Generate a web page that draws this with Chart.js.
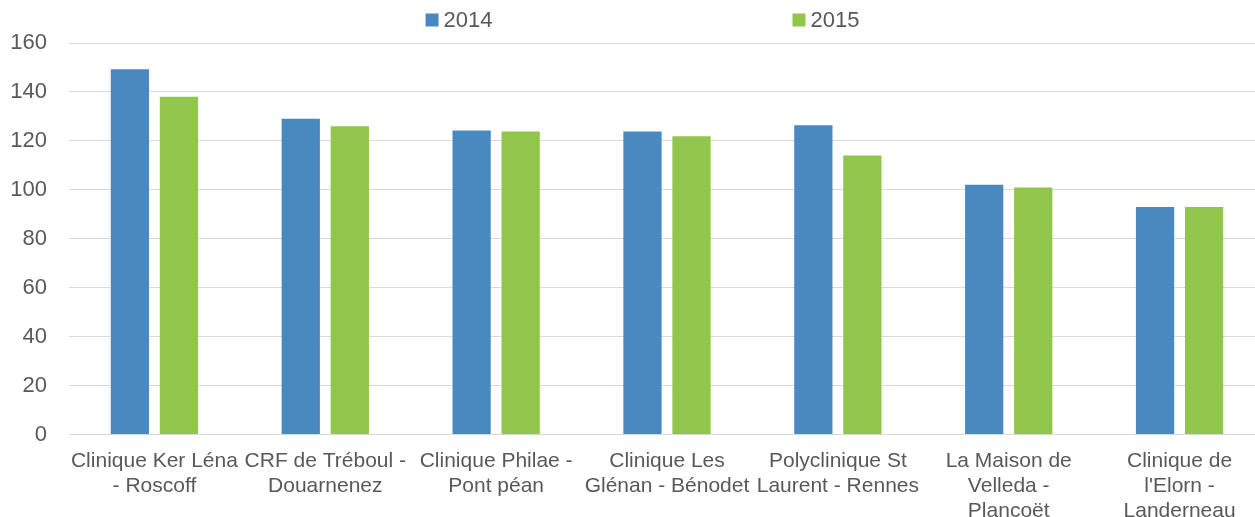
<!DOCTYPE html>
<html>
<head>
<meta charset="utf-8">
<script src="https://cdn.jsdelivr.net/npm/chart.js@4.4.1/dist/chart.umd.min.js"></script>
<style>
  html, body { margin: 0; padding: 0; background: #fff; overflow: hidden; }
  /* plot runs a little past the right edge, as in the original */
  #wrap { width: 1265px; height: 517px; position: relative; }
</style>
</head>
<body>
<div id="wrap"><canvas id="chart"></canvas></div>
<script>
// Categories (multi-line labels as shown under the axis)
const categories = [
  ['Clinique Ker Léna', '- Roscoff'],
  ['CRF de Tréboul -', 'Douarnenez'],
  ['Clinique Philae -', 'Pont péan'],
  ['Clinique Les', 'Glénan - Bénodet'],
  ['Polyclinique St', 'Laurent - Rennes'],
  ['La Maison de', 'Velleda -', 'Plancoët'],
  ['Clinique de', "l'Elorn -", 'Landerneau'],
];

const values2014 = [149.3, 129, 124.2, 123.8, 126.4, 102.1, 93];
const values2015 = [138, 126, 123.8, 121.9, 114, 100.9, 93];

const yMin = 0;
const yMax = 160;
const yStep = 20;

const textColor = '#595959';
const gridColor = '#D9D9D9';
const fontFamily = '"Liberation Sans", Arial, sans-serif';

// Simple legend drawn at the top, items spread wide apart like the original
const topLegend = {
  id: 'topLegend',
  afterDraw(chart) {
    const ctx = chart.ctx;
    const gap = 300;
    const box = 13;
    ctx.save();
    ctx.font = '22px ' + fontFamily;
    const items = chart.data.datasets.map(ds => ({
      label: ds.label,
      color: ds.backgroundColor,
      w: box + 5 + ctx.measureText(ds.label).width,
    }));
    const total = items.reduce((s, it) => s + it.w, 0) + gap * (items.length - 1);
    let x = chart.width / 2 - total / 2 + 10;
    const y = 20;
    items.forEach(it => {
      ctx.fillStyle = it.color;
      ctx.fillRect(x, y - box / 2, box, box);
      ctx.fillStyle = textColor;
      ctx.textBaseline = 'middle';
      ctx.textAlign = 'left';
      ctx.fillText(it.label, x + box + 5, y + 1);
      x += it.w + gap;
    });
    ctx.restore();
  }
};

const ctx = document.getElementById('chart');

new Chart(ctx, {
  type: 'bar',
  data: {
    labels: categories,
    datasets: [
      {
        label: '2014',
        data: values2014,
        backgroundColor: '#4A89BF',
        categoryPercentage: 0.574,
        barPercentage: 0.78,
      },
      {
        label: '2015',
        data: values2015,
        backgroundColor: '#92C54B',
        categoryPercentage: 0.574,
        barPercentage: 0.78,
      },
    ],
  },
  options: {
    responsive: true,
    maintainAspectRatio: false,
    animation: false,
    layout: {
      padding: { top: 43, right: 0, bottom: 0, left: 0 },
    },
    plugins: {
      legend: { display: false },
      tooltip: { enabled: false },
    },
    scales: {
      x: {
        grid: { display: false, drawTicks: false },
        border: { display: true, color: gridColor, width: 1 },
        ticks: {
          color: textColor,
          font: { family: fontFamily, size: 21, lineHeight: 1.2 },
          padding: 14,
          maxRotation: 0,
          autoSkip: false,
        },
        afterFit: (scale) => { scale.height = 82.5; },
      },
      y: {
        min: yMin,
        max: yMax,
        grid: { color: gridColor, lineWidth: 1, drawTicks: false },
        border: { display: false },
        ticks: {
          stepSize: yStep,
          color: textColor,
          font: { family: fontFamily, size: 22 },
          padding: 22,
        },
        afterFit: (scale) => { scale.width = 69; },
      },
    },
  },
  plugins: [topLegend],
});
</script>
</body>
</html>
